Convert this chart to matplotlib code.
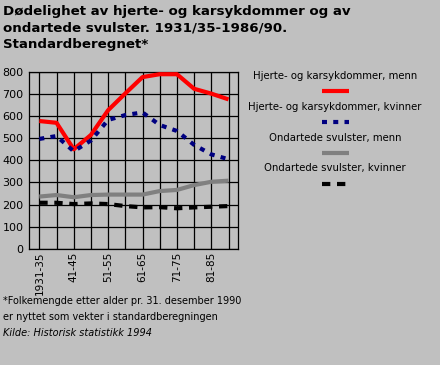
import matplotlib
matplotlib.use("Agg")
import matplotlib.pyplot as plt
from matplotlib.lines import Line2D

# periods (5-year), only every other one labelled on the axis
periods = ["1931-35", "36-40", "41-45", "46-50", "51-55", "56-60",
           "61-65", "66-70", "71-75", "76-80", "81-85", "86-90"]
tick_labels = ["1931-35", "", "41-45", "", "51-55", "", "61-65", "", "71-75", "", "81-85", ""]

# deaths per 100 000, standardised
heart_men = [578, 570, 450, 515, 627, 703, 777, 790, 790, 724, 702, 676]
heart_women = [497, 510, 441, 490, 583, 605, 617, 560, 533, 470, 427, 405]
cancer_men = [236, 243, 233, 243, 245, 245, 245, 261, 266, 288, 303, 308]
cancer_women = [208, 208, 202, 205, 202, 193, 187, 188, 183, 187, 190, 193]

series_names = ["Hjerte- og karsykdommer, menn", "Hjerte- og karsykdommer, kvinner",
                "Ondartede svulster, menn", "Ondartede svulster, kvinner"]

bg = "#c0c0c0"
fig = plt.figure(figsize=(4.4, 3.65), dpi=100, facecolor=bg)
ax = fig.add_axes([29 / 440, 1 - 248.7 / 365, 209 / 440, (248.7 - 72) / 365])
ax.set_facecolor(bg)

x = list(range(len(periods)))
styles = [
    dict(color="#ff0000", lw=3.0, ls="-"),
    dict(color="#000080", lw=3.0, ls=(0, (1.2, 1.5))),
    dict(color="#808080", lw=3.0, ls="-"),
    dict(color="#000000", lw=3.0, ls=(0, (2.0, 1.6))),
]
for vals, st in zip([heart_men, heart_women, cancer_men, cancer_women], styles):
    ax.plot(x, vals, solid_capstyle="butt", dash_capstyle="butt", **st, zorder=3)

ax.set_xlim(-0.6, len(periods) - 0.45)
ax.set_ylim(0, 800)
ax.set_yticks(range(0, 801, 100))
ax.set_xticks(x)
ax.set_xticklabels(tick_labels, rotation=90, fontsize=7.5)
ax.tick_params(axis="y", labelsize=8, length=0, pad=4)
ax.tick_params(axis="x", length=0, pad=2)
ax.grid(True, color="black", lw=0.9)
for s in ax.spines.values():
    s.set_color("black")
    s.set_linewidth(0.9)

fig.text(3 / 440, 1 - 5 / 365,
         "Dødelighet av hjerte- og karsykdommer og av\nondartede svulster. 1931/35-1986/90.\nStandardberegnet*",
         ha="left", va="top", fontsize=9.6, fontweight="bold", linespacing=1.35)

# legend drawn to the right of the plot
text_y = [76, 107, 138, 168]
line_y = [91, 122, 153, 184]
cx = 335
for name, st, ty, ly in zip(series_names, styles, text_y, line_y):
    fig.text(cx / 440, 1 - ty / 365, name, ha="center", va="center", fontsize=7.3)
    fig.add_artist(Line2D([322 / 440, 349 / 440], [1 - ly / 365, 1 - ly / 365],
                          transform=fig.transFigure, solid_capstyle="butt",
                          dash_capstyle="butt", **st))

fig.text(3 / 440, 1 - 301 / 365, "*Folkemengde etter alder pr. 31. desember 1990",
         ha="left", va="center", fontsize=7.0)
fig.text(3 / 440, 1 - 317 / 365, "er nyttet som vekter i standardberegningen",
         ha="left", va="center", fontsize=7.0)
fig.text(3 / 440, 1 - 333 / 365, "Kilde: Historisk statistikk 1994",
         ha="left", va="center", fontsize=7.0, style="italic")

fig.savefig("out.png", dpi=100, facecolor=bg)
